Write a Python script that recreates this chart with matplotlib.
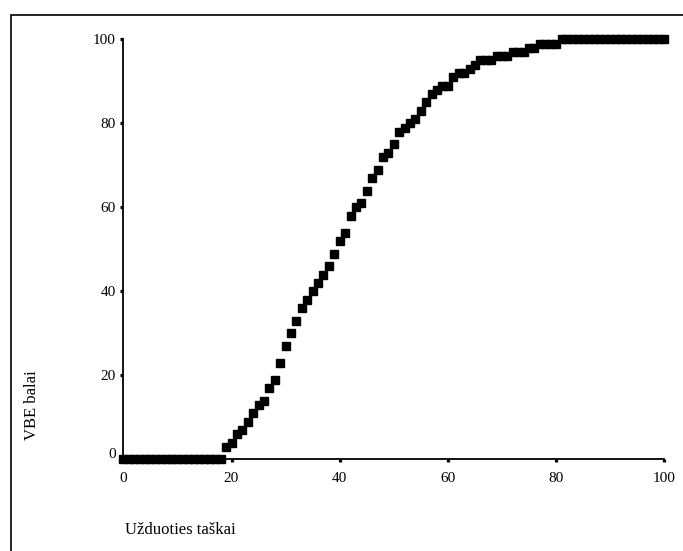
import matplotlib
matplotlib.use("Agg")
import matplotlib.pyplot as plt
import matplotlib.patches as mpatches
import matplotlib.transforms as mtransforms

plt.rcParams["font.family"] = ["Liberation Serif", "DejaVu Serif"]

# Task points (x) and exam score (y)
task_points = list(range(0, 101))
exam_scores = (
    [0] * 19
    + [3, 4, 6, 7, 9, 11, 13, 14, 17, 19,            # 19-28
       23, 27, 30, 33, 36, 38, 40, 42, 44, 46,       # 29-38
       49, 52, 54, 58, 60, 61, 64, 67, 69, 72,       # 39-48
       73, 75, 78, 79, 80, 81, 83, 85, 87, 88,       # 49-58
       89, 89, 91, 92, 92, 93, 94, 95, 95, 95,       # 59-68
       96, 96, 96, 97, 97, 97, 98, 98, 99, 99,       # 69-78
       99, 99]                                       # 79-80
    + [100] * 20
)
tick_values = [0, 20, 40, 60, 80, 100]

fig = plt.figure(figsize=(6.83, 5.51), dpi=100)
ax = fig.add_axes([123.3 / 683, 1 - 459.3 / 551, 541 / 683, 420 / 551])

ax.plot(task_points, exam_scores, linestyle="none", marker="s",
        markersize=5.2, color="black", clip_on=False, zorder=3)

ax.set_xlim(0, 100)
ax.set_ylim(0, 100)
ax.set_xticks(tick_values)
ax.set_yticks(tick_values)
ax.tick_params(axis="both", direction="out", length=2.3, width=2.3,
               color="black", labelsize=11)
ax.tick_params(axis="x", pad=7)
ax.tick_params(axis="y", pad=3)

for side in ["top", "right"]:
    ax.spines[side].set_visible(False)
for side in ["left", "bottom"]:
    ax.spines[side].set_linewidth(1.3)
    ax.spines[side].set_color("black")

# the "0" on the y axis sits a bit above the axis line
zero_lab = ax.get_yticklabels()[0]
zero_lab.set_transform(zero_lab.get_transform()
                       + mtransforms.ScaledTranslation(0, 6 / 100, fig.dpi_scale_trans))

fig.text(32 / 683, 1 - 405 / 551, "VBE balai", rotation=90,
         ha="center", va="center", fontsize=12)
fig.text(125 / 683, 1 - 530 / 551, "Užduoties taškai",
         ha="left", va="center", fontsize=12)

# outer frame of the picture
frame = mpatches.Rectangle((11 / 683, -0.05), 1.2, 1 - 15 / 551 + 0.05,
                           transform=fig.transFigure, fill=False,
                           edgecolor="black", linewidth=1.2)
fig.patches.append(frame)

fig.savefig("out.png", dpi=100)
